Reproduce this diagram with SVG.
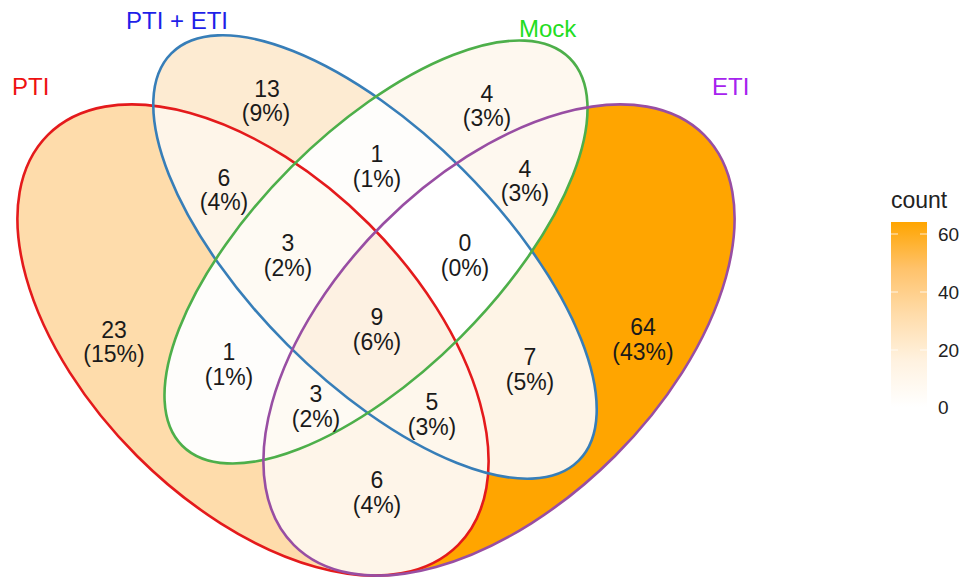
<svg xmlns="http://www.w3.org/2000/svg" xmlns:xlink="http://www.w3.org/1999/xlink" width="961" height="579" viewBox="0 0 961 579">
  <style>
    .num { font-family: "Liberation Sans", Arial, sans-serif; font-size: 23px; fill: #1a1a1a; text-anchor: middle; }
    .set { font-family: "Liberation Sans", Arial, sans-serif; font-size: 24px; }
    .edge { fill: none; stroke-width: 2.6; }
    .leg { font-family: "Liberation Sans", Arial, sans-serif; fill: #222; }
  </style>
  <defs>
    <!-- the four set ellipses -->
    <ellipse id="eP" cx="253" cy="340" rx="290" ry="164" transform="rotate(45 253 340)"/>
    <ellipse id="eB" cx="375" cy="257" rx="288" ry="124" transform="rotate(45 375 257)"/>
    <ellipse id="eM" cx="376" cy="252" rx="274" ry="120" transform="rotate(-45 376 252)"/>
    <ellipse id="eE" cx="499" cy="340" rx="290" ry="164" transform="rotate(-45 499 340)"/>
    <clipPath id="cP"><use xlink:href="#eP"/></clipPath>
    <clipPath id="cB"><use xlink:href="#eB"/></clipPath>
    <clipPath id="cM"><use xlink:href="#eM"/></clipPath>
    <clipPath id="cE"><use xlink:href="#eE"/></clipPath>
    <linearGradient id="countScale" x1="0" y1="1" x2="0" y2="0">
      <stop offset="0" stop-color="#ffffff"/>
      <stop offset="0.25" stop-color="#fff2e0"/>
      <stop offset="0.5" stop-color="#ffdcaa"/>
      <stop offset="0.75" stop-color="#ffc26a"/>
      <stop offset="1" stop-color="#ffa500"/>
    </linearGradient>
  </defs>

  <!-- region fills: painted from single sets up to the full intersection,
       each clipped to the intersection of its sets -->
  <g id="regions">
    <rect x="0" y="0" width="961" height="579" fill="#ffffff"/>
    <g clip-path="url(#cP)"><rect width="961" height="579" fill="#fedcab"/></g>
    <g clip-path="url(#cB)"><rect width="961" height="579" fill="#fdebd2"/></g>
    <g clip-path="url(#cM)"><rect width="961" height="579" fill="#fef8ef"/></g>
    <g clip-path="url(#cE)"><rect width="961" height="579" fill="#ffa500"/></g>

    <g clip-path="url(#cP)"><g clip-path="url(#cB)"><rect width="961" height="579" fill="#fef5e9"/></g></g>
    <g clip-path="url(#cP)"><g clip-path="url(#cM)"><rect width="961" height="579" fill="#fefdfb"/></g></g>
    <g clip-path="url(#cP)"><g clip-path="url(#cE)"><rect width="961" height="579" fill="#fef5e9"/></g></g>
    <g clip-path="url(#cB)"><g clip-path="url(#cM)"><rect width="961" height="579" fill="#fefdfb"/></g></g>
    <g clip-path="url(#cB)"><g clip-path="url(#cE)"><rect width="961" height="579" fill="#fef4e6"/></g></g>
    <g clip-path="url(#cM)"><g clip-path="url(#cE)"><rect width="961" height="579" fill="#fef8ef"/></g></g>

    <g clip-path="url(#cP)"><g clip-path="url(#cB)"><g clip-path="url(#cM)"><rect width="961" height="579" fill="#fefaf3"/></g></g></g>
    <g clip-path="url(#cP)"><g clip-path="url(#cB)"><g clip-path="url(#cE)"><rect width="961" height="579" fill="#fef7ec"/></g></g></g>
    <g clip-path="url(#cP)"><g clip-path="url(#cM)"><g clip-path="url(#cE)"><rect width="961" height="579" fill="#fefaf3"/></g></g></g>
    <g clip-path="url(#cB)"><g clip-path="url(#cM)"><g clip-path="url(#cE)"><rect width="961" height="579" fill="#ffffff"/></g></g></g>

    <g clip-path="url(#cP)"><g clip-path="url(#cB)"><g clip-path="url(#cM)"><g clip-path="url(#cE)"><rect width="961" height="579" fill="#fdf1e2"/></g></g></g></g>
  </g>

  <!-- set outlines with their names -->
  <g id="set-PTI">
    <use xlink:href="#eP" class="edge" stroke="#e41a1c"/>
    <text class="set" x="12" y="95" fill="#ee1111">PTI</text>
  </g>
  <g id="set-PTI-ETI">
    <use xlink:href="#eB" class="edge" stroke="#377eb8"/>
    <text class="set" x="126" y="29" fill="#1f1fe8">PTI + ETI</text>
  </g>
  <g id="set-Mock">
    <use xlink:href="#eM" class="edge" stroke="#4daf4a"/>
    <text class="set" x="519" y="37" fill="#22dd22">Mock</text>
  </g>
  <g id="set-ETI">
    <use xlink:href="#eE" class="edge" stroke="#984ea3"/>
    <text class="set" x="712" y="95" fill="#a623ee">ETI</text>
  </g>

  <!-- region counts -->
  <g id="counts">
    <text class="num" x="114" y="338">23</text><text class="num" x="114" y="362">(15%)</text>
    <text class="num" x="267" y="97">13</text><text class="num" x="266" y="121">(9%)</text>
    <text class="num" x="487" y="102">4</text><text class="num" x="487" y="126">(3%)</text>
    <text class="num" x="643" y="335">64</text><text class="num" x="643" y="360">(43%)</text>
    <text class="num" x="224" y="186">6</text><text class="num" x="224" y="210">(4%)</text>
    <text class="num" x="377" y="162">1</text><text class="num" x="377" y="187">(1%)</text>
    <text class="num" x="525" y="177">4</text><text class="num" x="525" y="201">(3%)</text>
    <text class="num" x="288" y="251">3</text><text class="num" x="288" y="276">(2%)</text>
    <text class="num" x="465" y="251">0</text><text class="num" x="465" y="276">(0%)</text>
    <text class="num" x="377" y="325">9</text><text class="num" x="377" y="350">(6%)</text>
    <text class="num" x="229" y="360">1</text><text class="num" x="229" y="385">(1%)</text>
    <text class="num" x="530" y="365">7</text><text class="num" x="530" y="390">(5%)</text>
    <text class="num" x="316" y="402">3</text><text class="num" x="316" y="427">(2%)</text>
    <text class="num" x="432" y="410">5</text><text class="num" x="432" y="435">(3%)</text>
    <text class="num" x="377" y="488">6</text><text class="num" x="377" y="513">(4%)</text>
  </g>

  <!-- colour bar legend -->
  <g id="legend">
    <text class="leg" x="891" y="208" font-size="23">count</text>
    <rect x="891" y="222" width="36" height="185" fill="url(#countScale)"/>
    <g stroke="#ffffff" stroke-width="1" opacity="0.8">
      <line x1="891" y1="234" x2="898" y2="234"/><line x1="920" y1="234" x2="927" y2="234"/>
      <line x1="891" y1="292" x2="898" y2="292"/><line x1="920" y1="292" x2="927" y2="292"/>
      <line x1="891" y1="350" x2="898" y2="350"/><line x1="920" y1="350" x2="927" y2="350"/>
    </g>
    <g class="leg" font-size="19">
      <text x="938" y="241">60</text>
      <text x="938" y="299">40</text>
      <text x="938" y="357">20</text>
      <text x="938" y="414">0</text>
    </g>
  </g>
</svg>
